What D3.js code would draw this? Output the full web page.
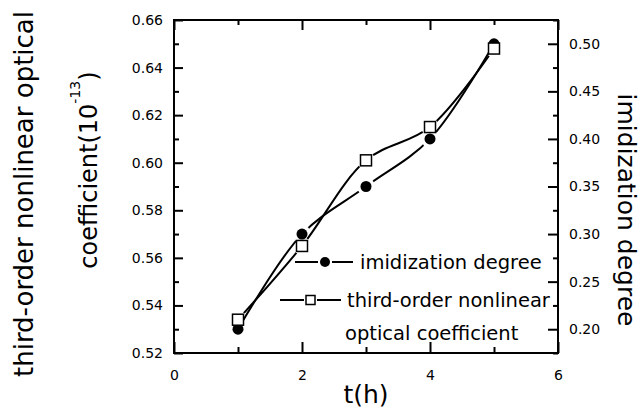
<html>
<head>
<style>
    body { margin: 0; background: #fff; }
    text { font-family: "DejaVu Sans", sans-serif; fill: #000; }
    .tick text { font-size: 14px; }
    .tick line { stroke: #000; stroke-width: 2; }
</style>
</head>
<body>
<svg id="chart" width="642" height="414"></svg>

<script src="https://d3js.org/d3.v7.min.js"></script>
<script>
    // values
    const hours = [1, 2, 3, 4, 5]
    const imidization = [0.20, 0.30, 0.35, 0.40, 0.50]      // right axis
    const thirdOrder = [0.534, 0.565, 0.601, 0.615, 0.648]  // left axis (1e-13)

    const xMajor = [0, 2, 4, 6]
    const xMinor = [1, 3, 5]
    const leftMajor = [0.52, 0.54, 0.56, 0.58, 0.60, 0.62, 0.64, 0.66]
    const leftMinor = [0.53, 0.55, 0.57, 0.59, 0.61, 0.63, 0.65]
    const rightMajor = [0.20, 0.25, 0.30, 0.35, 0.40, 0.45, 0.50]
    const rightMinor = [0.175, 0.225, 0.275, 0.325, 0.375, 0.425, 0.475, 0.525]

    const marginLeft = 174, marginTop = 20, plotWidth = 384, plotHeight = 333

    let svg = d3.select("#chart")
    let body = svg.append("g").attr("transform", `translate(${marginLeft},${marginTop})`)

    let x = d3.scaleLinear().domain([0, 6]).range([0, plotWidth])
    let yL = d3.scaleLinear().domain([0.52, 0.66]).range([plotHeight, 0])
    let yR = d3.scaleLinear().domain([0.175, 0.525]).range([plotHeight, 0])

    // axes, ticks pointing inwards
    function axisGroup(axis, tr) {
        let g = body.append("g").attr("transform", tr).call(axis)
        g.select(".domain").remove()
        return g
    }
    axisGroup(d3.axisBottom(x).tickValues(xMajor).tickSize(-11).tickPadding(17).tickFormat(d3.format("d")),
        `translate(0,${plotHeight})`)
    axisGroup(d3.axisBottom(x).tickValues(xMinor).tickSize(-6).tickFormat(""), `translate(0,${plotHeight})`)
    axisGroup(d3.axisTop(x).tickValues(xMajor).tickSize(-10).tickFormat(""), "translate(0,0)")
    axisGroup(d3.axisTop(x).tickValues(xMinor).tickSize(-5).tickFormat(""), "translate(0,0)")
    axisGroup(d3.axisLeft(yL).tickValues(leftMajor).tickSize(-9).tickPadding(11).tickFormat(d3.format(".2f")),
        "translate(0,0)")
    axisGroup(d3.axisLeft(yL).tickValues(leftMinor).tickSize(-5).tickFormat(""), "translate(0,0)")
    axisGroup(d3.axisRight(yR).tickValues(rightMajor).tickSize(-10).tickPadding(11).tickFormat(d3.format(".2f")),
        `translate(${plotWidth},0)`)
    axisGroup(d3.axisRight(yR).tickValues(rightMinor).tickSize(-5).tickFormat(""), `translate(${plotWidth},0)`)

    body.append("rect")
        .attr("width", plotWidth).attr("height", plotHeight)
        .attr("fill", "none").attr("stroke", "#000").attr("stroke-width", 2)

    // series
    let series = [
        { id: "imid", values: imidization, y: yR, shape: "circle" },
        { id: "third", values: thirdOrder, y: yL, shape: "square" }
    ]

    let defs = svg.append("defs")
    series.forEach(s => {
        let pts = hours.map((h, i) => [x(h), s.y(s.values[i])])
        // gap in the line around its own symbols
        let mask = defs.append("mask").attr("id", "m-" + s.id).attr("maskUnits", "userSpaceOnUse")
            .attr("x", -marginLeft).attr("y", -marginTop).attr("width", 642).attr("height", 414)
        mask.append("rect").attr("x", -marginLeft).attr("y", -marginTop).attr("width", 642).attr("height", 414).attr("fill", "#fff")
        mask.selectAll("circle").data(pts).join("circle")
            .attr("cx", d => d[0]).attr("cy", d => d[1]).attr("r", 9).attr("fill", "#000")

        body.append("path")
            .datum(pts)
            .attr("d", d3.line().curve(d3.curveCatmullRom))
            .attr("fill", "none").attr("stroke", "#000").attr("stroke-width", 2)
            .attr("mask", `url(#m-${s.id})`)
    })

    series.forEach(s => {
        let pts = hours.map((h, i) => [x(h), s.y(s.values[i])])
        if (s.shape === "circle") {
            body.selectAll(".dot").data(pts).join("circle").attr("class", "dot")
                .attr("cx", d => d[0]).attr("cy", d => d[1]).attr("r", 5.5).attr("fill", "#000")
        } else {
            body.selectAll(".sq").data(pts).join("rect").attr("class", "sq")
                .attr("x", d => d[0] - 5.5).attr("y", d => d[1] - 5.5)
                .attr("width", 11).attr("height", 11)
                .attr("fill", "#fff").attr("stroke", "#000").attr("stroke-width", 1.5)
        }
    })

    // legend
    let leg = svg.append("g")
    leg.append("line").attr("x1", 295).attr("x2", 318).attr("y1", 262).attr("y2", 262).attr("stroke", "#000").attr("stroke-width", 2)
    leg.append("line").attr("x1", 332).attr("x2", 353).attr("y1", 262).attr("y2", 262).attr("stroke", "#000").attr("stroke-width", 2)
    leg.append("circle").attr("cx", 325).attr("cy", 262).attr("r", 5).attr("fill", "#000")
    leg.append("text").attr("x", 360).attr("y", 269).style("font-size", "19.5px").text("imidization degree")

    leg.append("line").attr("x1", 280).attr("x2", 304).attr("y1", 300).attr("y2", 300).attr("stroke", "#000").attr("stroke-width", 2)
    leg.append("line").attr("x1", 317).attr("x2", 341).attr("y1", 300).attr("y2", 300).attr("stroke", "#000").attr("stroke-width", 2)
    leg.append("rect").attr("x", 306).attr("y", 295.5).attr("width", 9).attr("height", 9)
        .attr("fill", "#fff").attr("stroke", "#000").attr("stroke-width", 1.5)
    leg.append("text").attr("x", 347).attr("y", 307).style("font-size", "19.5px").text("third-order nonlinear")
    leg.append("text").attr("x", 345).attr("y", 340).style("font-size", "19.5px").text("optical coefficient")

    // axis titles
    svg.append("text").attr("text-anchor", "middle").attr("transform", "translate(366,403)")
        .style("font-size", "25px").text("t(h)")
    svg.append("text").attr("text-anchor", "middle").attr("transform", "translate(33,194) rotate(-90)")
        .style("font-size", "26px").text("third-order nonlinear optical")
    let t2 = svg.append("text").attr("text-anchor", "middle").attr("transform", "translate(97,170) rotate(-90)")
        .style("font-size", "24px")
    t2.append("tspan").text("coefficient(10")
    t2.append("tspan").attr("dy", -17).style("font-size", "14px").text("-13")
    t2.append("tspan").attr("dy", 17).text(")")
    svg.append("text").attr("text-anchor", "middle").attr("transform", "translate(618,210) rotate(90)")
        .style("font-size", "25px").text("imidization degree")
</script>
</body>
</html>
